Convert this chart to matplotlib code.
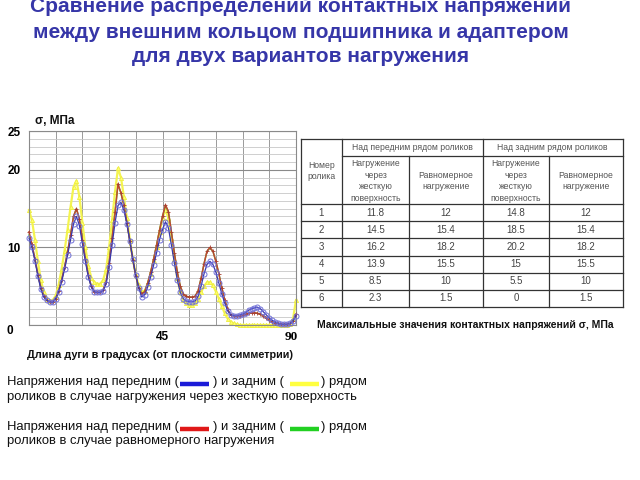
import matplotlib
matplotlib.use('Agg')
import matplotlib.pyplot as plt
import numpy as np
from matplotlib.transforms import ScaledTranslation

plt.rcParams['font.family'] = ['Liberation Sans', 'DejaVu Sans']

# ---------------- data ----------------
angle = list(range(0, 91))

front_rigid = [11.2, 10.0, 8.3, 6.3, 4.6, 3.6, 3.2, 3.0, 2.9, 3.4,
               4.3, 5.6, 7.2, 9.0, 11.0, 13.0, 14.0, 12.8, 10.5, 8.2,
               6.2, 4.9, 4.3, 4.2, 4.2, 4.4, 5.3, 7.5, 10.3, 13.2,
               15.4, 15.8, 14.8, 13.0, 10.8, 8.5, 6.4, 4.8, 3.6, 3.9,
               4.9, 6.2, 7.7, 9.3, 11.0, 12.3, 13.3, 12.5, 10.3, 8.0,
               5.8, 4.2, 3.4, 3.1, 3.0, 3.0, 3.1, 3.7, 5.0, 6.6,
               7.8, 8.2, 7.8, 6.8, 5.4, 4.0, 2.8, 1.8, 1.3, 1.2,
               1.2, 1.3, 1.4, 1.6, 1.9, 2.1, 2.2, 2.3, 2.1, 1.7,
               1.3, 0.9, 0.6, 0.4, 0.2, 0.1, 0.1, 0.1, 0.2, 0.5,
               1.2]

front_uniform = [12.0, 10.4, 8.5, 6.5, 4.8, 3.7, 3.2, 3.0, 3.0, 3.4,
                 4.4, 5.8, 7.5, 9.4, 11.6, 14.0, 15.0, 13.6, 11.0, 8.5,
                 6.4, 5.0, 4.3, 4.2, 4.2, 4.5, 5.6, 8.0, 11.2, 14.5,
                 18.2, 17.0, 15.4, 13.2, 10.8, 8.4, 6.3, 4.8, 4.0, 4.3,
                 5.4, 6.8, 8.5, 10.3, 12.2, 14.0, 15.5, 14.6, 12.0, 9.3,
                 6.8, 5.0, 4.0, 3.7, 3.6, 3.6, 3.7, 4.4, 6.0, 7.9,
                 9.5, 10.0, 9.5, 8.2, 6.6, 4.8, 3.2, 2.0, 1.3, 1.2,
                 1.2, 1.2, 1.3, 1.4, 1.5, 1.6, 1.6, 1.5, 1.4, 1.2,
                 0.9, 0.6, 0.4, 0.3, 0.2, 0.1, 0.1, 0.1, 0.2, 0.5,
                 1.4]

rear_uniform = [11.6, 10.3, 8.5, 6.5, 4.8, 3.7, 3.2, 3.0, 3.0, 3.4,
                4.4, 5.8, 7.5, 9.4, 11.6, 14.0, 15.0, 13.6, 11.0, 8.5,
                6.4, 5.0, 4.3, 4.2, 4.2, 4.5, 5.6, 8.0, 11.2, 14.5,
                18.1, 17.0, 15.4, 13.2, 10.8, 8.4, 6.3, 4.8, 4.0, 4.3,
                5.4, 6.8, 8.5, 10.3, 12.2, 14.0, 15.4, 14.6, 12.0, 9.3,
                6.8, 5.0, 4.0, 3.7, 3.6, 3.6, 3.7, 4.4, 6.0, 7.9,
                9.5, 9.9, 9.5, 8.2, 6.6, 4.8, 3.2, 2.0, 1.3, 1.2,
                1.2, 1.2, 1.3, 1.4, 1.5, 1.6, 1.6, 1.5, 1.4, 1.2,
                0.9, 0.6, 0.4, 0.3, 0.2, 0.1, 0.1, 0.1, 0.2, 0.5,
                1.4]

rear_rigid = [14.8, 13.5, 11.0, 8.2, 5.8, 4.2, 3.4, 3.1, 3.2, 3.8,
              5.2, 7.2, 9.6, 12.3, 15.2, 17.8, 18.6, 16.5, 13.2, 10.0,
              7.6, 6.1, 5.5, 5.3, 5.3, 5.8, 7.2, 10.0, 13.5, 17.2,
              20.2, 19.0, 16.5, 13.8, 11.0, 8.5, 6.5, 5.1, 4.3, 4.4,
              5.3, 6.6, 8.2, 10.0, 12.0, 13.8, 14.8, 13.8, 11.2, 8.5,
              6.0, 4.2, 3.2, 2.8, 2.6, 2.6, 2.8, 3.3, 4.2, 5.0,
              5.5, 5.5, 5.1, 4.3, 3.4, 2.4, 1.5, 0.8, 0.4, 0.2,
              0.1, 0.0, 0.0, 0.0, 0.0, 0.0, 0.0, 0.0, 0.0, 0.0,
              0.0, 0.0, 0.0, 0.0, 0.0, 0.0, 0.0, 0.0, 0.1, 0.8,
              3.2]

y_ticks = [0, 10, 20, 25]
x_ticks = [45, 90]

title_lines = ["Сравнение распределений контактных напряжений",
               "между внешним кольцом подшипника и адаптером",
               "для двух вариантов нагружения"]

table_roller = ["1", "2", "3", "4", "5", "6"]
table_front_rigid = ["11.8", "14.5", "16.2", "13.9", "8.5", "2.3"]
table_front_uniform = ["12", "15.4", "18.2", "15.5", "10", "1.5"]
table_rear_rigid = ["14.8", "18.5", "20.2", "15", "5.5", "0"]
table_rear_uniform = ["12", "15.4", "18.2", "15.5", "10", "1.5"]

# ---------------- figure ----------------
W, H = 640, 480
fig = plt.figure(figsize=(6.4, 4.8), dpi=100)

ax = fig.add_axes([29 / W, 1 - 325 / H, 267 / W, 194 / H])
ax.set_xlim(0, 90)
ax.set_ylim(0, 25)
ax.set_xticks(x_ticks)
ax.set_xticks(np.arange(0, 91, 9), minor=True)
ax.set_yticks(y_ticks)
ax.set_yticks(np.arange(0, 26, 1), minor=True)
ax.set_yticklabels([str(v) for v in y_ticks])
ax.set_xticklabels([str(v) for v in x_ticks])
ax.tick_params(which='both', length=0)
ax.tick_params(axis='y', pad=6, labelsize=8.5)
ax.tick_params(axis='x', pad=4, labelsize=8.5)
for lab in ax.get_yticklabels() + ax.get_xticklabels():
    lab.set_fontweight('bold')
xl = ax.get_xticklabels()
xl[1].set_fontfamily('Liberation Serif')
xl[1].set_fontsize(9.5)
xl[1].set_transform(xl[1].get_transform() + ScaledTranslation(-5 / 100, 0, fig.dpi_scale_trans))
yl = ax.get_yticklabels()
yl[0].set_transform(yl[0].get_transform() + ScaledTranslation(-8 / 100, -5 / 100, fig.dpi_scale_trans))

ax.yaxis.grid(True, which='minor', color='#c8c8c8', lw=0.6)
ax.yaxis.grid(True, which='major', color='#8a8a8a', lw=0.8)
ax.xaxis.grid(True, which='minor', color='#9a9a9a', lw=0.7)
ax.xaxis.grid(True, which='major', color='#9a9a9a', lw=0.7)
ax.set_axisbelow(True)
for s in ax.spines.values():
    s.set_color('#8a8a8a')
    s.set_linewidth(0.8)

ax.plot(angle, rear_rigid, color='#f4f450', lw=1.6, marker='^', ms=3,
        mfc='#ffff70', mec='#eeee40', mew=0.6, zorder=2, clip_on=False)
ax.plot(angle, rear_uniform, color='#40c040', lw=1.0, zorder=3, clip_on=False)
ax.plot(angle, front_uniform, color='#c04a30', lw=1.1, marker='+', ms=2.5,
        mec='#a84030', mew=0.6, zorder=4, clip_on=False)
ax.plot(angle, front_rigid, color='#3838b0', lw=0.9, marker='o', ms=3.6,
        mfc='none', mec='#7070d8', mew=0.7, zorder=5, clip_on=False)

# ---------------- overlay in pixel coordinates ----------------
ov = fig.add_axes([0, 0, 1, 1], zorder=-1)
ov.set_xlim(0, W)
ov.set_ylim(H, 0)
ov.axis('off')
ov.patch.set_alpha(0)

for txt, yy in zip(title_lines, [6, 32, 57]):
    ov.text(301, yy, txt, ha='center', va='center', fontsize=15,
            fontweight='bold', color='#3636a8')

ov.text(35, 121, "σ, МПа", ha='left', va='center', fontsize=8.5, fontweight='bold', color='#111111')
ov.text(160, 355, "Длина дуги в градусах (от плоскости симметрии)", ha='center', va='center',
        fontsize=7.8, fontweight='bold', color='#111111')

# table
tc = '#333333'
xs = [300.5, 342.3, 409, 482.7, 549.3, 622.7]
ys = [139.3, 156, 204, 221, 238.3, 255.7, 272.7, 290, 306.7]
lw = 0.9
ov.plot([xs[0], xs[-1]], [ys[0], ys[0]], color=tc, lw=lw)
ov.plot([xs[1], xs[-1]], [ys[1], ys[1]], color=tc, lw=lw)
for yv in ys[2:]:
    ov.plot([xs[0], xs[-1]], [yv, yv], color=tc, lw=lw)
for i, xv in enumerate(xs):
    if i in (2, 4):
        ov.plot([xv, xv], [ys[1], ys[-1]], color=tc, lw=lw)
    else:
        ov.plot([xv, xv], [ys[0], ys[-1]], color=tc, lw=lw)

hc = '#555555'
hs = 6.2
ov.text((xs[0] + xs[1]) / 2, 171, "Номер\nролика", ha='center', va='center', fontsize=hs,
        color=hc, linespacing=1.35)
ov.text((xs[1] + xs[3]) / 2, 147.5, "Над передним рядом роликов", ha='center', va='center',
        fontsize=hs, color=hc)
ov.text((xs[3] + xs[5]) / 2, 147.5, "Над задним рядом роликов", ha='center', va='center',
        fontsize=hs, color=hc)
for c0, c1, t in [(1, 2, "Нагружение\nчерез\nжесткую\nповерхность"),
                  (2, 3, "Равномерное\nнагружение"),
                  (3, 4, "Нагружение\nчерез\nжесткую\nповерхность"),
                  (4, 5, "Равномерное\nнагружение")]:
    ov.text((xs[c0] + xs[c1]) / 2, 181, t, ha='center', va='center', fontsize=hs,
            color=hc, linespacing=1.35)

cols = [table_roller, table_front_rigid, table_front_uniform, table_rear_rigid, table_rear_uniform]
for ci, col in enumerate(cols):
    cx = (xs[ci] + xs[ci + 1]) / 2
    for ri, val in enumerate(col):
        cy = (ys[2 + ri] + ys[3 + ri]) / 2
        ov.text(cx, cy, val, ha='center', va='center', fontsize=7, color='#444444')

ov.text(465, 325, "Максимальные значения контактных напряжений σ, МПа", ha='center',
        va='center', fontsize=7.5, fontweight='bold', color='#111111')

# legend-like text block
fs = 9.4
tcol = '#111111'
ov.text(7, 382, "Напряжения над передним (", ha='left', va='center', fontsize=fs, color=tcol)
ov.plot([180, 209], [383.5, 383.5], color='#1a1ad8', lw=3.2, solid_capstyle='butt')
ov.text(213, 382, ") и задним (", ha='left', va='center', fontsize=fs, color=tcol)
ov.plot([290, 319], [383.5, 383.5], color='#ffff40', lw=3.2, solid_capstyle='butt')
ov.text(321, 382, ") рядом", ha='left', va='center', fontsize=fs, color=tcol)
ov.text(7, 397, "роликов в случае нагружения через жесткую поверхность", ha='left',
        va='center', fontsize=fs, color=tcol)

ov.text(7, 427, "Напряжения над передним (", ha='left', va='center', fontsize=fs, color=tcol)
ov.plot([180, 209], [428.5, 428.5], color='#e01818', lw=3.2, solid_capstyle='butt')
ov.text(213, 427, ") и задним (", ha='left', va='center', fontsize=fs, color=tcol)
ov.plot([290, 319], [428.5, 428.5], color='#22d022', lw=3.2, solid_capstyle='butt')
ov.text(321, 427, ") рядом", ha='left', va='center', fontsize=fs, color=tcol)
ov.text(7, 441, "роликов в случае равномерного нагружения", ha='left',
        va='center', fontsize=fs, color=tcol)

fig.savefig('out.png', dpi=100)
